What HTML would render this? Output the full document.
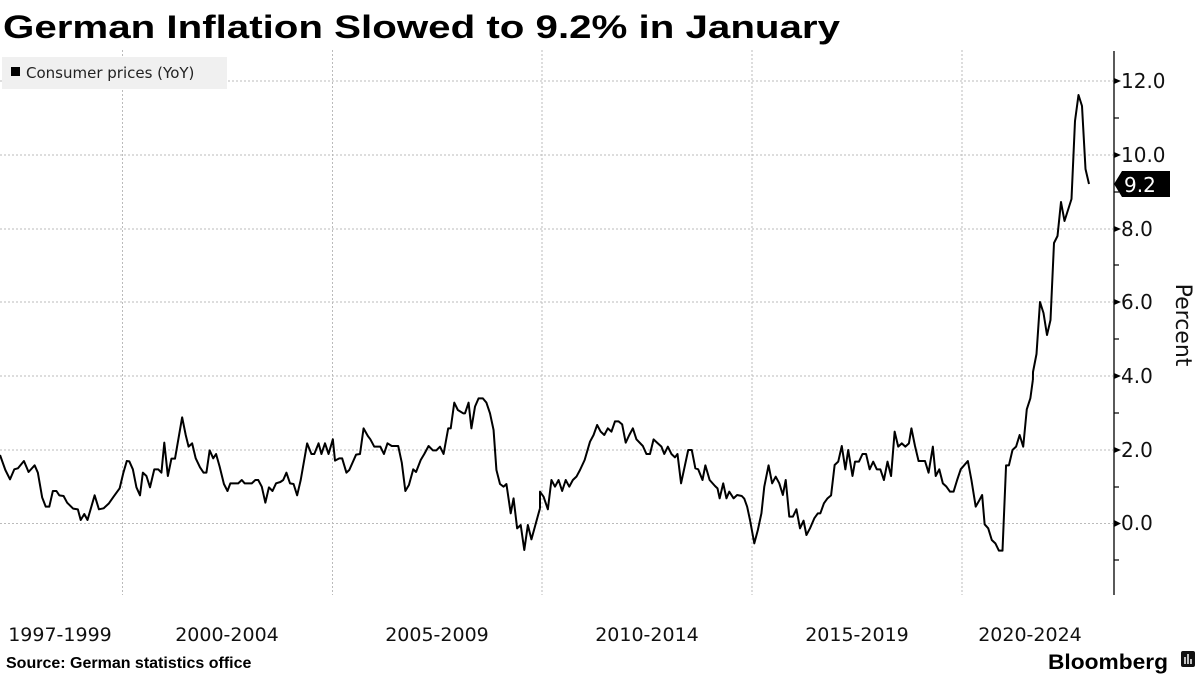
<!DOCTYPE html>
<html><head><meta charset="utf-8"><style>
html,body{margin:0;padding:0;background:#fff;width:1200px;height:675px;overflow:hidden}
svg{display:block;font-family:"Liberation Sans",sans-serif}
.dv{font-family:"DejaVu Sans","Liberation Sans",sans-serif}
</style></head><body>
<svg width="1200" height="675" viewBox="0 0 1200 675">
<text x="3" y="38" font-size="32" font-weight="bold" textLength="837" lengthAdjust="spacingAndGlyphs">German Inflation Slowed to 9.2% in January</text>
<g stroke="#bbb" stroke-width="1" stroke-dasharray="2,2">
<line x1="0" x2="1113" y1="81" y2="81"/><line x1="0" x2="1113" y1="155" y2="155"/><line x1="0" x2="1113" y1="229" y2="229"/><line x1="0" x2="1113" y1="302" y2="302"/><line x1="0" x2="1113" y1="376" y2="376"/><line x1="0" x2="1113" y1="450" y2="450"/><line x1="0" x2="1113" y1="523.5" y2="523.5"/>
<line x1="122.5" x2="122.5" y1="50" y2="595"/><line x1="332.5" x2="332.5" y1="50" y2="595"/><line x1="542" x2="542" y1="50" y2="595"/><line x1="752" x2="752" y1="50" y2="595"/><line x1="962" x2="962" y1="50" y2="595"/>
</g>
<rect x="2" y="57" width="225" height="32" fill="#f0f0f0"/>
<rect x="11" y="67" width="9" height="9" fill="#000"/>
<text class="dv" x="26" y="78" font-size="15" fill="#222">Consumer prices (YoY)</text>
<line x1="1114" x2="1114" y1="51" y2="595" stroke="#000" stroke-width="1.3"/>
<g stroke="#000" stroke-width="1.2">
<line x1="1114" x2="1119" y1="118" y2="118"/><line x1="1114" x2="1119" y1="192" y2="192"/><line x1="1114" x2="1119" y1="265" y2="265"/><line x1="1114" x2="1119" y1="339" y2="339"/><line x1="1114" x2="1119" y1="413" y2="413"/><line x1="1114" x2="1119" y1="487" y2="487"/><line x1="1114" x2="1119" y1="560" y2="560"/>
</g>
<g fill="#000">
<polygon points="1114,78 1121,81 1114,84"/><polygon points="1114,152 1121,155 1114,158"/><polygon points="1114,226 1121,229 1114,232"/><polygon points="1114,299 1121,302 1114,305"/><polygon points="1114,373 1121,376 1114,379"/><polygon points="1114,447 1121,450 1114,453"/><polygon points="1114,520 1121,523.5 1114,527"/>
</g>
<g class="dv" font-size="20" fill="#111">
<text x="1121" y="88">12.0</text><text x="1121" y="162">10.0</text><text x="1121" y="236">8.0</text><text x="1121" y="309">6.0</text><text x="1121" y="383">4.0</text><text x="1121" y="457">2.0</text><text x="1121" y="530">0.0</text>
</g>
<polygon points="1114,184 1122,171 1170,171 1170,197 1122,197" fill="#000"/>
<text class="dv" x="1124" y="192" font-size="20" fill="#fff">9.2</text>
<text class="dv" transform="translate(1176,325) rotate(90)" font-size="22" text-anchor="middle" fill="#111">Percent</text>
<g fill="none" stroke="#000" stroke-width="2" stroke-linejoin="round">
<g transform="translate(0,380) scale(0.35714,0.33333)">
<polyline vector-effect="non-scaling-stroke" points="0,225 15,270 28,298 40,268 50,265 67,243 80,276 97,256 106,278 118,352 128,380 138,380 148,333 158,333 166,346 178,348 188,368 205,386 218,388 226,420 236,402 245,420 265,346 277,388 290,385 305,370 318,350 335,325 345,280 355,243 362,244 372,268 382,322 392,346 400,278 410,288 420,322 432,268 443,268 452,278 460,188 470,288 480,236 490,236 510,112 520,165 528,200 538,190 548,235 560,262 570,278 578,278 587,211 597,235 605,222 615,260 627,312 637,333 645,310 667,310 677,300 685,310 705,310 715,300 723,300 733,320 743,368 753,322 763,333 773,310 785,306 793,300 802,278 812,310 822,312 832,346 842,300 860,190 872,222 880,222 892,190 900,222 910,190 920,222 932,178 938,242 950,235 958,235 970,278 978,270 997,224 1008,222 1018,145 1030,168 1037,178 1048,200 1065,200 1075,222 1085,190 1097,198 1115,198 1125,248 1135,333 1145,315 1157,268 1165,276 1178,240 1188,222 1200,198 1212,211 1222,211 1232,200 1242,222 1255,145 1262,145 1272,68 1282,90 1297,100 1302,100 1312,68 1320,145 1330,80 1340,55 1352,55 1362,68 1372,100 1382,150 1390,270 1400,312 1410,320 1418,312 1430,400 1438,355 1448,445 1458,435 1468,510 1478,435 1488,478 1508,400 1512,385"/>
</g>
<g transform="translate(540,380) scale(0.35714,0.33333)">
<polyline vector-effect="non-scaling-stroke" points="0,385 0,335 10,350 22,388 32,300 42,320 52,300 62,333 72,300 82,320 92,300 102,290 112,270 125,240 140,185 150,165 160,135 170,155 180,165 190,145 200,155 210,124 220,124 230,133 240,188 250,165 260,145 270,178 288,198 298,222 308,222 318,178 330,190 340,200 348,222 358,200 368,222 378,232 385,222 395,310 405,260 415,210 425,210 435,265 443,268 455,300 463,256 475,300 490,318 497,325 503,355 513,310 522,355 530,335 542,355 552,345 565,348 572,356 580,380 588,420 600,490 610,450 620,400 628,320 640,256 650,310 660,290 670,310 680,345 688,300 698,410 708,410 718,388 728,445 738,422 746,465 756,445 768,415 778,400 785,400 795,370 805,355 815,346 825,255 835,245 845,198 855,268 863,210 875,288 882,245 893,245 903,222 913,222 923,268 933,245 943,268 953,268 963,300 973,245 983,288 993,155 1003,200 1013,190 1023,200 1033,190 1040,145 1050,198 1060,243 1078,243 1088,278 1100,200 1108,288 1118,268 1128,310 1138,320 1148,335 1158,335 1168,300 1178,268 1198,243 1208,300 1220,380 1228,365 1238,345 1245,433 1255,445 1265,480 1275,490 1285,512 1295,512 1305,256 1313,256 1323,210 1333,200 1343,165 1353,200 1363,88 1373,55 1380,0"/>
</g>
<polyline points="1032.9,380 1033,372 1036.5,354 1040,302 1043.5,313 1047,335 1050.5,320 1054,243 1057.5,236 1061,202 1064.5,221 1068,210 1071.5,199 1075,121 1078.5,95 1082,106 1085.5,169 1089,184"/>
</g>
<g class="dv" font-size="19" fill="#111" text-anchor="middle">
<text x="60" y="641">1997-1999</text><text x="227" y="641">2000-2004</text><text x="437" y="641">2005-2009</text><text x="647" y="641">2010-2014</text><text x="857" y="641">2015-2019</text><text x="1030" y="641">2020-2024</text>
</g>
<text x="6" y="668" font-size="16" font-weight="bold">Source: German statistics office</text>
<text x="1048" y="669" font-size="21" font-weight="bold" textLength="120" lengthAdjust="spacingAndGlyphs">Bloomberg</text>
<rect x="1181" y="651" width="14" height="16" rx="2" fill="#111"/>
<g stroke="#fff" stroke-width="1.5"><line x1="1185" x2="1185" y1="657" y2="664"/><line x1="1188" x2="1188" y1="654" y2="664"/><line x1="1191" x2="1191" y1="659" y2="664"/></g>
</svg>
</body></html>
